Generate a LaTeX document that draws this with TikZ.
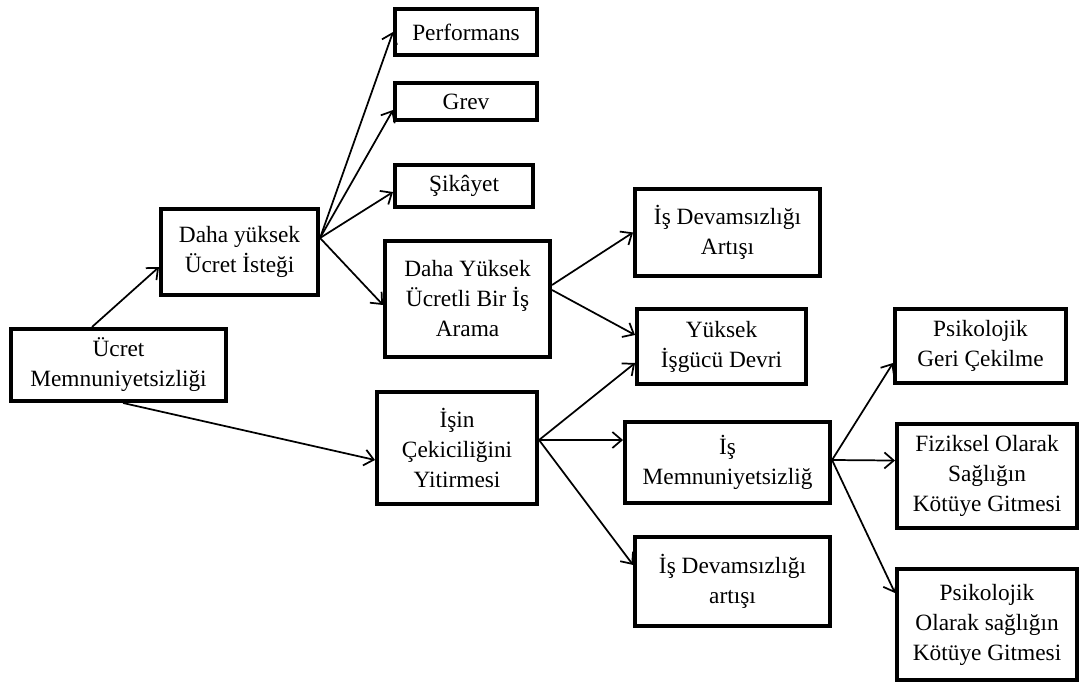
\documentclass[tikz,border=0pt]{standalone}
\usepackage{fontspec}
\setmainfont{Liberation Serif}
\usepackage{tikz}
\usetikzlibrary{arrows.meta,positioning}

\begin{document}
\begin{tikzpicture}[
		box/.style={draw,line width=3pt,inner sep=2pt,align=center,font=\fontsize{17.5}{22.5}\selectfont},
		link/.style={line width=1.3pt,-{Straight Barb[length=7pt,width=12pt]}}]
		\useasboundingbox (0,0) rectangle (810pt,-513pt);
		% left side
		\node[box,minimum width=161.25pt,minimum height=54pt] (ucret) at (88.9pt,-273.75pt) {Ücret\\Memnuniyetsizliği};
		\node[box,minimum width=117.75pt,minimum height=64.5pt,above=22.5pt of ucret,xshift=90.75pt] (istek) {Daha yüksek\\Ücret İsteği};
		\node[box,minimum width=120pt,minimum height=84pt,right=110.25pt of ucret,yshift=-62.25pt] (cekici) {İşin\\Çekiciliğini\\Yitirmesi};
		% first branch
		\node[box,minimum width=106.5pt,minimum height=34.5pt,right=54.75pt of istek,yshift=165pt] (perf) {Performans};
		\node[box,minimum width=106.5pt,minimum height=27.75pt,right=54.75pt of istek,yshift=112.9pt] (grev) {Grev};
		\node[box,minimum width=103.5pt,minimum height=31.5pt,right=54.75pt of istek,yshift=49.5pt] (sikayet) {Şikâyet};
		\node[box,minimum width=123.75pt,minimum height=87pt,right=47.25pt of istek,yshift=-35.25pt] (arama) {Daha Yüksek\\Ücretli Bir İş\\Arama};
		\node[box,minimum width=138.75pt,minimum height=65.25pt,right=60.75pt of arama,yshift=49.9pt] (devam1) {İş Devamsızlığı\\Artışı};
		\node[box,minimum width=126.75pt,minimum height=56.25pt,right=62.25pt of arama,yshift=-35.6pt] (devir) {Yüksek\\İşgücü Devri};
		% second branch
		\node[box,minimum width=153.75pt,minimum height=60.75pt,right=63pt of cekici,yshift=-10.9pt] (memnun) {İş\\Memnuniyetsizliğ};
		\node[box,minimum width=146.25pt,minimum height=66.75pt,right=70.5pt of cekici,yshift=-100.1pt] (devam2) {İş Devamsızlığı\\artışı};
		\node[box,minimum width=128.25pt,minimum height=55.5pt,right=45.75pt of memnun,yshift=87.4pt] (geri) {Psikolojik\\Geri Çekilme};
		\node[box,minimum width=135pt,minimum height=78pt,right=47.25pt of memnun,yshift=-10.1pt] (fizik) {Fiziksel Olarak\\Sağlığın\\Kötüye Gitmesi};
		\node[box,minimum width=135pt,minimum height=83.25pt,right=47.25pt of memnun,yshift=-121.5pt] (psiko) {Psikolojik\\Olarak sağlığın\\Kötüye Gitmesi};
		% arrows
		\draw[link] ([xshift=-19.9pt]ucret.north) -- ([yshift=-11.25pt]istek.west);
		\draw[link] ([xshift=3.4pt]ucret.south) -- ([yshift=-9pt]cekici.west);
		\draw[link] ([yshift=10.5pt]istek.east) -- (perf.west);
		\draw[link] ([yshift=10.5pt]istek.east) -- ([yshift=-6.4pt]grev.west);
		\draw[link] ([yshift=10.5pt]istek.east) -- ([yshift=-4.5pt]sikayet.west);
		\draw[link] ([yshift=10.5pt]istek.east) -- ([yshift=-4.5pt]arama.west);
		\draw[link] ([yshift=10.5pt]arama.east) -- (devam1.west);
		\draw[link] ([yshift=6.75pt]arama.east) -- ([yshift=8.6pt]devir.west);
		\draw[link] ([yshift=6pt]cekici.east) -- ([yshift=-12.4pt]devir.west);
		\draw[link] ([yshift=6pt]cekici.east) -- ([yshift=16.9pt]memnun.west);
		\draw[link] ([yshift=6pt]cekici.east) -- ([yshift=12.4pt]devam2.west);
		\draw[link] ([yshift=1.9pt]memnun.east) -- ([yshift=-12.75pt]geri.west);
		\draw[link] ([yshift=1.9pt]memnun.east) -- ([yshift=11.6pt]fizik.west);
		\draw[link] ([yshift=1.9pt]memnun.east) -- ([yshift=23.6pt]psiko.west);
	\end{tikzpicture}
\end{document}
